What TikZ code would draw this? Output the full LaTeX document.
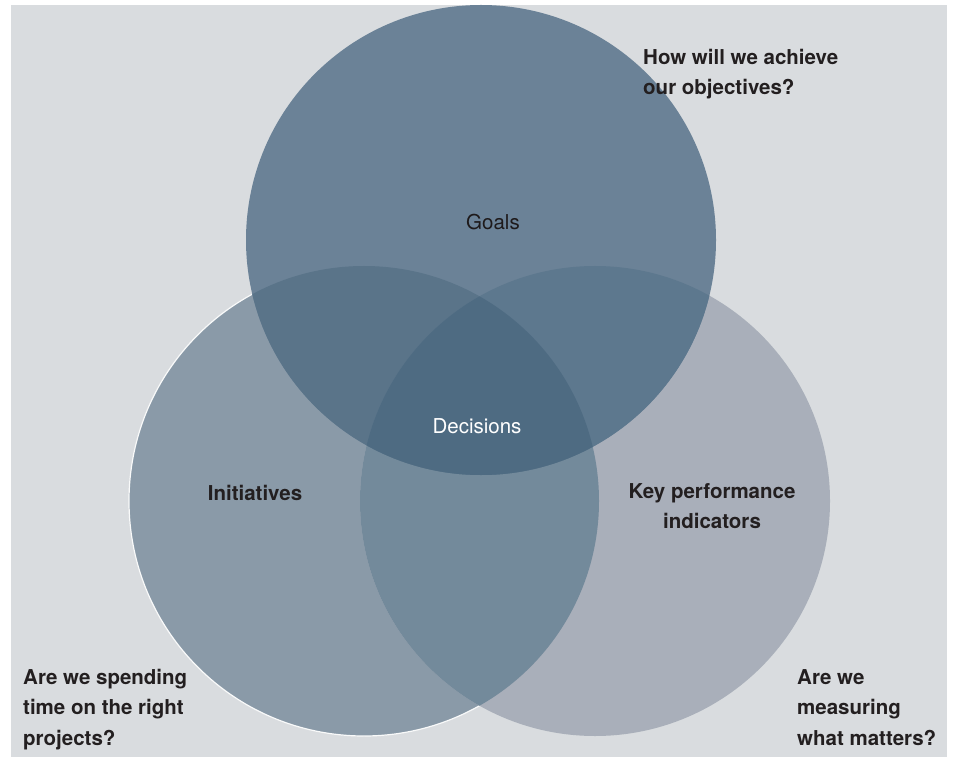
\documentclass[tikz,border=0pt]{standalone}
\usepackage{fontspec}
\setmainfont{TeX Gyre Heros}
\definecolor{bgc}{HTML}{D9DCDF}
\definecolor{cG}{HTML}{6B8297}
\definecolor{cI}{HTML}{8A9AA8}
\definecolor{cK}{HTML}{A9AFBA}
\definecolor{cGI}{HTML}{5A7489}
\definecolor{cGK}{HTML}{5D788E}
\definecolor{cIK}{HTML}{738A9B}
\definecolor{cC}{HTML}{4E6B82}
\definecolor{txt}{HTML}{231F20}
\tikzset{
  q/.style={font=\fontsize{20.5}{30.5}\selectfont\bfseries, text=txt, align=left, inner sep=0pt},
  lbl/.style={font=\fontsize{20.5}{30.5}\selectfont\bfseries, text=txt, align=center, inner sep=0pt},
  lblr/.style={font=\fontsize{20.5}{30.5}\selectfont, inner sep=0pt},
}
\begin{document}
\begin{tikzpicture}[x=1pt,y=-1pt]
\useasboundingbox (0,0) rectangle (961,767);
\fill[white] (0,0) rectangle (961,767);
\fill[bgc] (11,5) rectangle (947,757);
\def\Gc{(481,240) circle (235)}
\def\Ic{(364,501) circle (235)}
\def\Kc{(595,501) circle (235)}
% left circle with light rim
\fill[cI] \Ic;
\draw[white!85!bgc, line width=1.2pt] \Ic;
\fill[cK] \Kc;
\fill[cG] \Gc;
\begin{scope}\clip \Ic; \fill[cIK] \Kc; \end{scope}
\begin{scope}\clip \Gc; \fill[cGI] \Ic; \fill[cGK] \Kc; \end{scope}
\begin{scope}\clip \Gc; \clip \Ic; \fill[cC] \Kc; \end{scope}
% labels
\node[lblr, text=txt!85!black] (goals) at (493,222) {Goals};
\node[lblr, text=white] (dec) at (477,426) {Decisions};
\node[lbl] (ini) at (255,493) {Initiatives};
\node[lbl, anchor=north] (kpi) at (712,483) {Key performance\\indicators};
\node[q, anchor=north west] (q1) at (643,49) {How will we achieve\\our objectives?};
\node[q, anchor=north west] (q2) at (23,669) {Are we spending\\time on the right\\projects?};
\node[q, anchor=north west] (q3) at (797,669) {Are we\\measuring\\what matters?};
\end{tikzpicture}
\end{document}
